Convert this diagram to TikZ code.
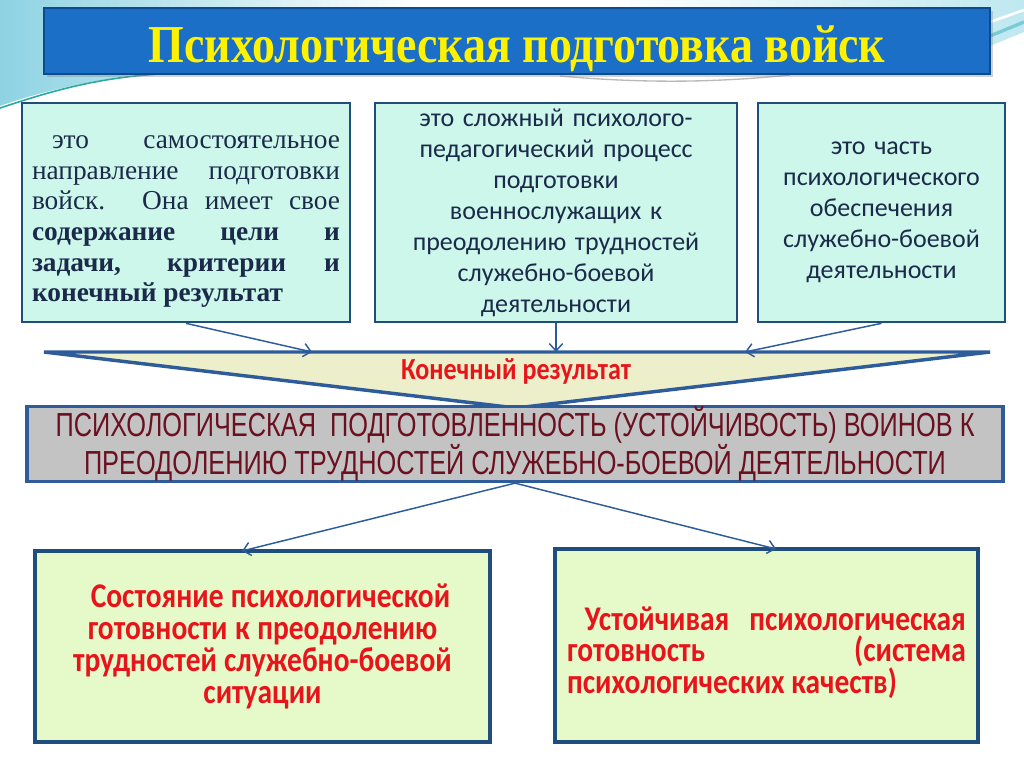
\documentclass[tikz,border=0pt]{standalone}
\usepackage{fontspec}
\setmainfont{Liberation Serif}
\newfontfamily\calib{Carlito}
\newfontfamily\titlefont[FakeStretch=0.86]{Liberation Serif}
\newfontfamily\redcond[FakeStretch=0.85]{Carlito}
\newfontfamily\narrowsans[FakeStretch=0.76]{Liberation Sans}
\usetikzlibrary{arrows.meta,shadows}
\definecolor{titlefill}{HTML}{1B6FC6}
\definecolor{titledraw}{HTML}{0E4B8E}
\definecolor{mint}{HTML}{CCF7EA}
\definecolor{boxblue}{HTML}{1F4E7C}
\definecolor{navy}{HTML}{1B2A4A}
\definecolor{trifill}{HTML}{ECEFC9}
\definecolor{lineblue}{HTML}{2E5C9A}
\definecolor{redtxt}{HTML}{E8141B}
\definecolor{grayfill}{HTML}{C3C3C3}
\definecolor{maroon}{HTML}{6B1020}
\definecolor{greenfill}{HTML}{E6F9C8}
\definecolor{skyA}{HTML}{8ED3E3}
\definecolor{skyB}{HTML}{BFE8F0}
\definecolor{teal}{HTML}{2AA9A0}
\hyphenpenalty=10000
\exhyphenpenalty=10000
\begin{document}
\begin{tikzpicture}[x=0.75pt,y=-0.75pt,
  titlebox/.style={draw=titledraw, line width=2pt, fill=titlefill,
    minimum width=709.5pt, minimum height=49.5pt, inner sep=0pt,
    drop shadow={shadow xshift=2pt, shadow yshift=-2pt, opacity=0.35},
    text=yellow, font=\titlefont\bfseries\fontsize{40}{44}\selectfont},
  mintbox/.style={draw=boxblue, line width=2pt, fill=mint, inner sep=0pt,
    minimum height=164.25pt, text=navy},
  serifbox/.style={font=\fontsize{20.5}{23}\selectfont},
  calibbox/.style={font=\calib\fontsize{19.5}{23.25}\selectfont, align=center},
  tri/.style={draw=lineblue, line width=2.6pt, fill=trifill, line join=miter},
  graybox/.style={draw=lineblue, line width=2.4pt, fill=grayfill, inner sep=0pt,
    minimum width=732pt, minimum height=51pt, text=maroon, align=center,
    font=\narrowsans\fontsize{25}{22.5}\selectfont},
  greenbox/.style={draw=boxblue, line width=2.4pt, fill=greenfill, inner sep=0pt,
    text=redtxt, font=\redcond\bfseries\fontsize{26}{23.8}\selectfont},
  arr/.style={draw=lineblue, line width=1.1pt,
    -{Straight Barb[length=5.5pt,width=10pt]}}
]
\useasboundingbox (0,0) rectangle (1024,767);
\fill[white] (0,0) rectangle (1024,767);
% decorative background
\shade[left color=skyA, right color=white]
  (0,0) -- (420,0) -- (420,8) -- (140,74) .. controls (80,82) and (30,95) .. (0,106) -- cycle;
\draw[teal, line width=1.2pt] (0,108) .. controls (40,95) and (90,78) .. (160,74);
\shade[left color=white, right color=skyB]
  (600,0) -- (1024,0) -- (1024,32) -- (990,46) -- (990,8) -- (600,8) -- cycle;
\draw[white, line width=2pt] (990,22) -- (1024,10);
\draw[skyA!80!teal, line width=2.5pt] (990,36) -- (1024,22);
\draw[gray!55, line width=1pt] (560,76) .. controls (650,84) and (720,82) .. (790,75);
% title
\node[titlebox] (title) at (517,41) {\raisebox{-16pt}[0pt][0pt]{Психологическая подготовка войск}};
% top boxes
\node[mintbox, serifbox, minimum width=246pt, text width=231pt, align=justify] (b1) at (186,212.5)
  {\rule{0pt}{23.5pt}\hspace*{15pt}это самостоятельное\linebreak направление подготовки\linebreak войск. Она имеет свое\linebreak
   \textbf{содержание цели и\linebreak задачи, критерии и\linebreak конечный результат}};
\node[mintbox, calibbox, minimum width=271.5pt, text width=260pt] (b2) at (556,212.5)
  {это сложный психолого-\\педагогический процесс\\подготовки\\военнослужащих к\\преодолению трудностей\\служебно-боевой\\деятельности};
\node[mintbox, calibbox, minimum width=185.25pt, text width=180pt] (b3) at (881.5,212.5)
  {это часть\\психологического\\обеспечения\\служебно-боевой\\деятельности};
% result triangle
\coordinate (trL) at (44,352);
\coordinate (trR) at (990,352);
\coordinate (trA) at (516,408);
\draw[tri] (trL) -- (trR) -- (trA) -- cycle;
\node[text=redtxt, font=\redcond\bfseries\fontsize{23}{26}\selectfont] (kr) at (516,371) {Конечный результат};
\coordinate (t1) at (312,352);
\coordinate (t2) at (556,352);
\coordinate (t3) at (745,352);
\draw[arr] (b1.south) -- (t1);
\draw[arr] (b2.south) -- (t2);
\draw[arr] (b3.south) -- (t3);
% gray box
\node[graybox] (gray) at (515,444)
  {ПСИХОЛОГИЧЕСКАЯ~ ПОДГОТОВЛЕННОСТЬ (УСТОЙЧИВОСТЬ) ВОИНОВ К\\ПРЕОДОЛЕНИЮ ТРУДНОСТЕЙ СЛУЖЕБНО-БОЕВОЙ ДЕЯТЕЛЬНОСТИ};
% bottom boxes
\node[greenbox, minimum width=341.25pt, minimum height=143.25pt, text width=300pt, align=center] (bl) at (262.5,646.5)
  {\spaceskip=0.2em plus 0.05em minus 0.05em\hspace*{12pt}Состояние психологической\\готовности к преодолению\\трудностей служебно-боевой\\ситуации};
\node[greenbox, minimum width=317.25pt, minimum height=144.75pt, text width=299pt, align=justify] (br) at (766.5,645.5)
  {\rule{0pt}{28.5pt}\hspace*{13pt}Устойчивая психологическая\linebreak готовность (система\linebreak психологических качеств)};
\coordinate (bt1) at (242,551);
\coordinate (bt2) at (776,549);
\draw[arr] (gray.south) -- (bt1);
\draw[arr] (gray.south) -- (bt2);
\end{tikzpicture}
\end{document}
